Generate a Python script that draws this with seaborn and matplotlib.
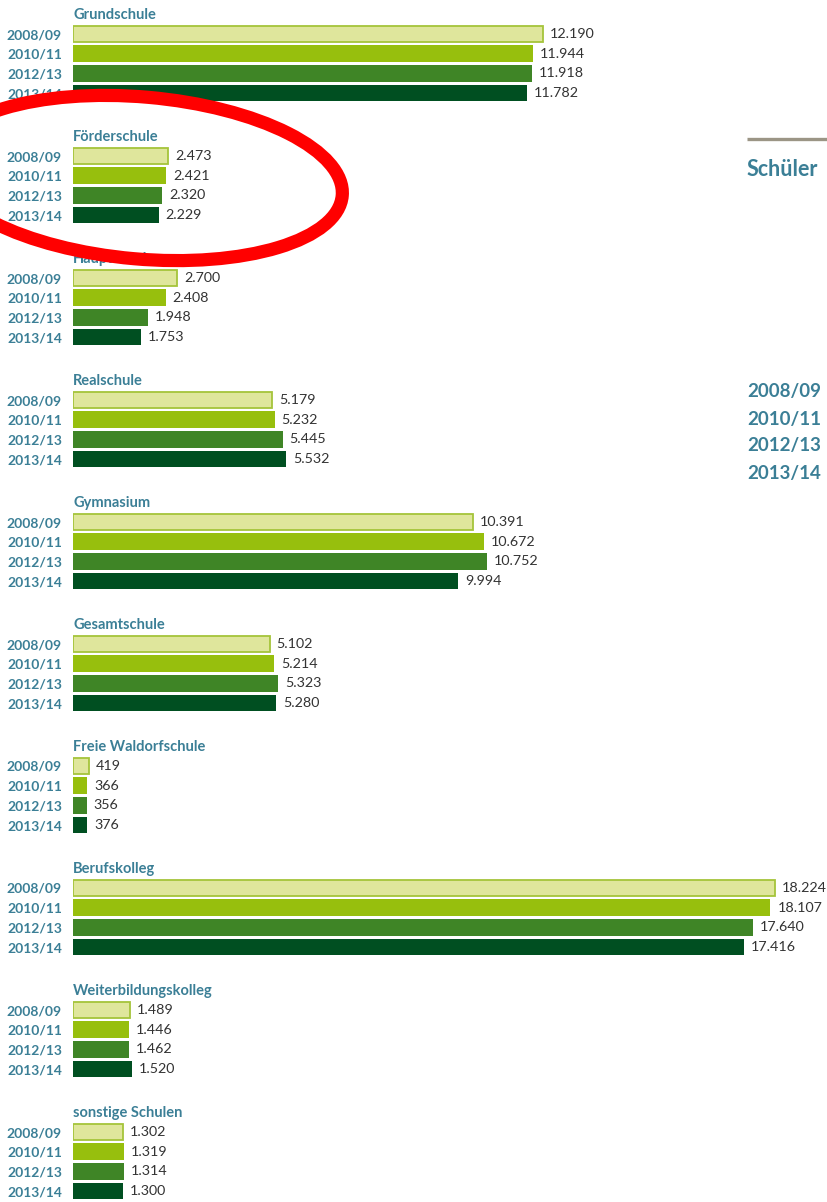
"""
Schülerzahlen nach Schulform, grouped horizontal bar chart.
"""

import pandas as pd
import matplotlib.pyplot as plt
import seaborn as sns
from matplotlib.patches import Ellipse

# --- data -----------------------------------------------------------------
schools = [
    "Grundschule", "Förderschule", "Hauptschule", "Realschule", "Gymnasium",
    "Gesamtschule", "Freie Waldorfschule", "Berufskolleg",
    "Weiterbildungskolleg", "sonstige Schulen",
]
years = ["2008/09", "2010/11", "2012/13", "2013/14"]

grundschule = [12190, 11944, 11918, 11782]
foerderschule = [2473, 2421, 2320, 2229]
hauptschule = [2700, 2408, 1948, 1753]
realschule = [5179, 5232, 5445, 5532]
gymnasium = [10391, 10672, 10752, 9994]
gesamtschule = [5102, 5214, 5323, 5280]
waldorfschule = [419, 366, 356, 376]
berufskolleg = [18224, 18107, 17640, 17416]
weiterbildungskolleg = [1489, 1446, 1462, 1520]
sonstige = [1302, 1319, 1314, 1300]

values = [grundschule, foerderschule, hauptschule, realschule, gymnasium,
          gesamtschule, waldorfschule, berufskolleg, weiterbildungskolleg,
          sonstige]

year_colors = ["#dfe69c", "#97bf0d", "#3f8526", "#004f21"]
TEAL = "#3b7f96"
TEXT = "#333333"

rows = []
for school, vals in zip(schools, values):
    for year, v in zip(years, vals):
        rows.append({"schule": school, "jahr": year, "schueler": v})
df = pd.DataFrame(rows)


def german_number(v):
    return f"{int(v):,}".replace(",", ".")


# --- layout ---------------------------------------------------------------
sns.set_style("white")
plt.rcParams["font.family"] = ["Lato", "DejaVu Sans"]

W, H = 827, 1202
fig = plt.figure(figsize=(W / 100, H / 100), dpi=100)

left_px, right_px = 73, 827
first_bar_px = 34
group_step = 122
bar_step = 19.7
# the longest bar ends at ~775 px
x_max = max(berufskolleg) * (right_px - left_px) / 702

for g, school in enumerate(schools):
    top = first_bar_px - bar_step / 2 + g * group_step
    height = 4 * bar_step
    ax = fig.add_axes([left_px / W, 1 - (top + height) / H,
                       (right_px - left_px) / W, height / H])
    ax.patch.set_alpha(0)
    sub = df[df["schule"] == school]
    sns.barplot(data=sub, x="schueler", y="jahr", hue="jahr",
                order=years, hue_order=years, palette=year_colors,
                dodge=False, width=0.85, saturation=1, errorbar=None,
                linewidth=0, legend=False, ax=ax)

    # first year has a light fill with a green outline
    for bar in ax.containers[0]:
        bar.set_edgecolor("#a5c43a")
        bar.set_linewidth(1.3)

    for c in ax.containers:
        ax.bar_label(c, labels=[german_number(v) for v in c.datavalues],
                     padding=5, fontsize=10.3, color=TEXT)

    ax.set_xlim(0, x_max)
    ax.set_xticks([])
    ax.set_xlabel("")
    ax.set_ylabel("")
    ax.tick_params(axis="y", length=0, pad=8, labelsize=10, labelcolor=TEAL)
    for lab in ax.get_yticklabels():
        lab.set_fontweight("bold")
    ax.set_title(school, loc="left", pad=3.5, fontsize=10.5,
                 fontweight="bold", color=TEAL)
    sns.despine(ax=ax, left=True, bottom=True)

# --- right-hand fragments and the red marker ------------------------------
ov = fig.add_axes([0, 0, 1, 1], zorder=10)
ov.set_xlim(0, W)
ov.set_ylim(H, 0)
ov.axis("off")
ov.patch.set_alpha(0)

ov.plot([747, 830], [139, 139], color="#9b9585", lw=2.4,
        solid_capstyle="butt")
ov.text(747, 170, "Schüler", fontsize=15.5, fontweight="bold", color=TEAL,
        va="center", ha="left")
for i, y in enumerate(years):
    ov.text(747, 392 + 27 * i, y, fontsize=13.5, fontweight="bold",
            color=TEAL, va="center", ha="left")

ov.add_patch(Ellipse((141, 178), 404, 162, angle=5, fill=False,
                     edgecolor="#ff0000", lw=9.5))

fig.savefig("out.png", dpi=100)
plt.close(fig)
